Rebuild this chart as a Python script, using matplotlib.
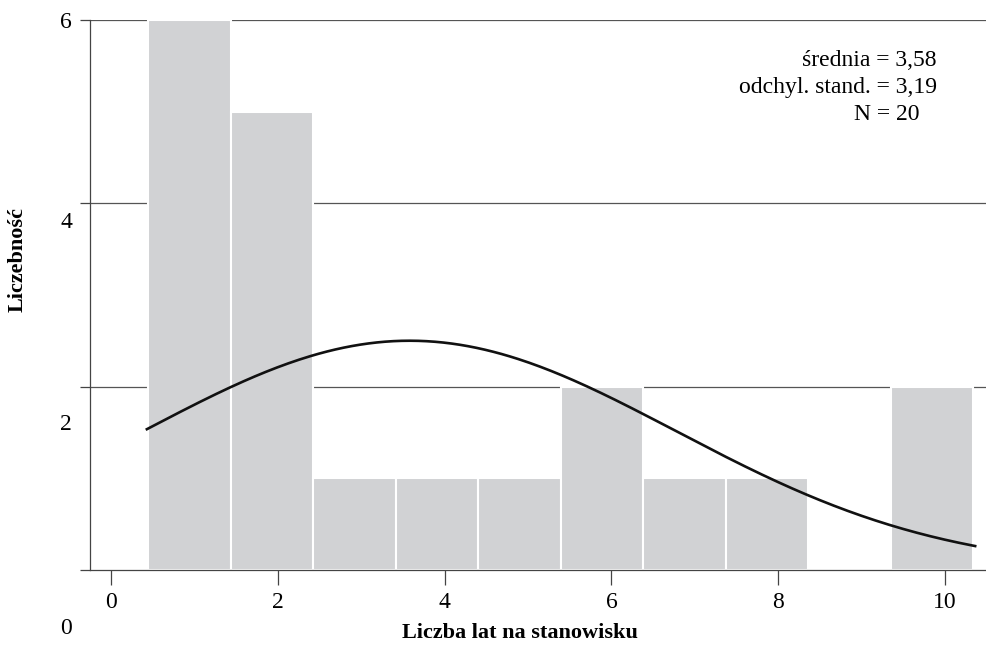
import numpy as np
import matplotlib
matplotlib.use("Agg")
import matplotlib.pyplot as plt

# histogram data: years on position, counts per bin
bin_values = [1, 2, 3, 4, 5, 6, 7, 8, 9, 10]
counts     = [6, 5, 1, 1, 1, 2, 1, 1, 0, 2]
mean_val   = 3.58
sd_val     = 3.19
n_total    = 20

x_ticks    = [0, 2, 4, 6, 8, 10]
y_ticks    = [0, 2, 4, 6]
y_labels   = ["0", "2", "4", "6"]
stat_lines = ["średnia = 3,58", "odchyl. stand. = 3,19", "N = 20"]

plt.rcParams['font.family'] = ['Liberation Serif', 'DejaVu Serif']

W, H = 986, 647
fig = plt.figure(figsize=(W / 100, H / 100), dpi=100)
ax  = fig.add_axes([90 / W, (H - 570) / H, (W - 90) / W, 550 / H])

# bars in the original sit a little off the integer grid
step  = 0.989
left0 = 0.445
lefts = left0 + step * (np.array(bin_values) - 1)
ax.bar(lefts, counts, width=step, align="edge", color="#d1d2d4",
       edgecolor="white", linewidth=1.5, zorder=2)

# normal curve scaled to counts
xs = np.linspace(0.43, 10.36, 300)
ys = n_total * np.exp(-(xs - mean_val) ** 2 / (2 * sd_val ** 2)) \
     / (sd_val * np.sqrt(2 * np.pi))
ax.plot(xs, ys, color="#111111", lw=1.9, zorder=3)

ax.set_xlim(-0.252, 10.49)
ax.set_ylim(0, 6)

for y in y_ticks[1:]:
    ax.axhline(y, color="#555555", lw=0.9, zorder=1)

ax.set_xticks(x_ticks)
ax.set_xticklabels([str(v) for v in x_ticks], fontsize=17)
ax.tick_params(axis="x", length=11, width=0.9, color="#444444", pad=5)
ax.set_yticks(y_ticks)
ax.set_yticklabels([])
ax.tick_params(axis="y", length=7.5, width=0.9, color="#444444")

for side in ["top", "right"]:
    ax.spines[side].set_visible(False)
for side in ["left", "bottom"]:
    ax.spines[side].set_color("#444444")
    ax.spines[side].set_linewidth(0.9)

# y tick labels sit on their own spacing in the original
label_px = [628, 425, 223, 22]
for txt, py in zip(y_labels, label_px):
    fig.text(72 / W, 1 - py / H, txt, fontsize=17, ha="right", va="center")

fig.text(18 / W, 1 - 260 / H, "Liczebność", fontsize=16, fontweight="bold",
         rotation=90, ha="center", va="center")
fig.text(520 / W, 1 - 633 / H, "Liczba lat na stanowisku", fontsize=16,
         fontweight="bold", ha="center", va="center")

stat_pos = [(937, 60), (937, 88), (920, 114)]
for txt, (px, py) in zip(stat_lines, stat_pos):
    fig.text(px / W, 1 - py / H, txt, fontsize=17, ha="right", va="center")

fig.savefig("out.png", dpi=100)
